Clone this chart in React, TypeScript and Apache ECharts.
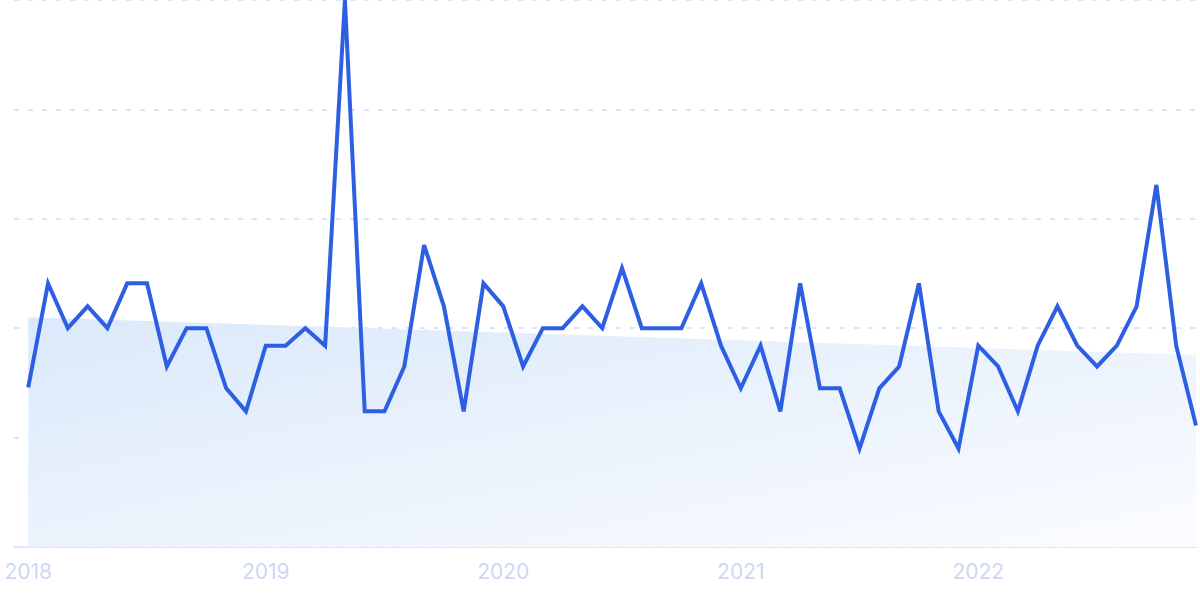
import React, { useEffect, useRef } from "react";
import * as echarts from "echarts";

const yearLabels = ["2018", "2019", "2020", "2021", "2022"];
const yearTickIndex = [0, 12, 24, 36, 48];

// monthly values Jan 2018 .. Dec 2022
const monthlyValues = [
  1.46, 2.41, 2.0, 2.2, 2.0, 2.41, 2.41, 1.65, 2.0, 2.0, 1.45, 1.24,
  1.84, 1.84, 2.0, 1.84, 5.0, 1.24, 1.24, 1.65, 2.76, 2.2, 1.24, 2.41,
  2.2, 1.65, 2.0, 2.0, 2.2, 2.0, 2.55, 2.0, 2.0, 2.0, 2.41, 1.84,
  1.45, 1.84, 1.24, 2.41, 1.45, 1.45, 0.9, 1.45, 1.65, 2.41, 1.24, 0.9,
  1.84, 1.65, 1.24, 1.84, 2.2, 1.84, 1.65, 1.84, 2.2, 3.31, 1.84, 1.11,
];

// trend line (start, end)
const trendIndex = [0, 59];
const trendValues = [2.1, 1.755];

export default function App() {
  const ref = useRef<HTMLDivElement>(null);

  useEffect(() => {
    document.body.style.margin = "0";
    if (!ref.current) return;
    const chart = echarts.init(ref.current, undefined, { renderer: "svg" });
    const lineData = monthlyValues.map((v, i) => [i, v]);
    const trendData = trendIndex.map((x, i) => [x, trendValues[i]]);
    chart.setOption({
      animation: false,
      grid: { left: 14, right: 4, top: 0, bottom: 52, containLabel: false },
      xAxis: {
        type: "value",
        min: -0.72,
        max: 59,
        splitLine: { show: false },
        axisTick: { show: false },
        axisLine: { show: true, lineStyle: { color: "#d6e2f8", width: 1.5 } },
        axisLabel: {
          customValues: yearTickIndex,
          formatter: (v: number) => yearLabels[yearTickIndex.indexOf(Math.round(v))] ?? "",
          color: "#cdd8f5",
          fontSize: 21,
          fontFamily: "Inter",
          margin: 14,
        },
      },
      yAxis: {
        type: "value",
        min: 0,
        max: 5,
        interval: 1,
        axisLine: { show: false },
        axisTick: { show: false },
        axisLabel: { show: false },
        splitLine: { show: true, lineStyle: { color: "#c9dcfb", type: [5, 9], width: 1.5 } },
      },
      series: [
        {
          type: "line",
          data: trendData,
          symbol: "none",
          z: 1,
          lineStyle: { width: 0 },
          areaStyle: {
            opacity: 1,
            color: new echarts.graphic.LinearGradient(0, 0, 1, 1, [
              { offset: 0, color: "#dbe9fa" },
              { offset: 1, color: "#fbfcff" },
            ]),
          },
        },
        {
          type: "line",
          data: lineData,
          symbol: "none",
          z: 3,
          lineStyle: { color: "#2e5fe3", width: 4, join: "miter" },
        },
      ],
    });
    return () => chart.dispose();
  }, []);

  return <div ref={ref} style={{ width: 1200, height: 599 }} />;
}
